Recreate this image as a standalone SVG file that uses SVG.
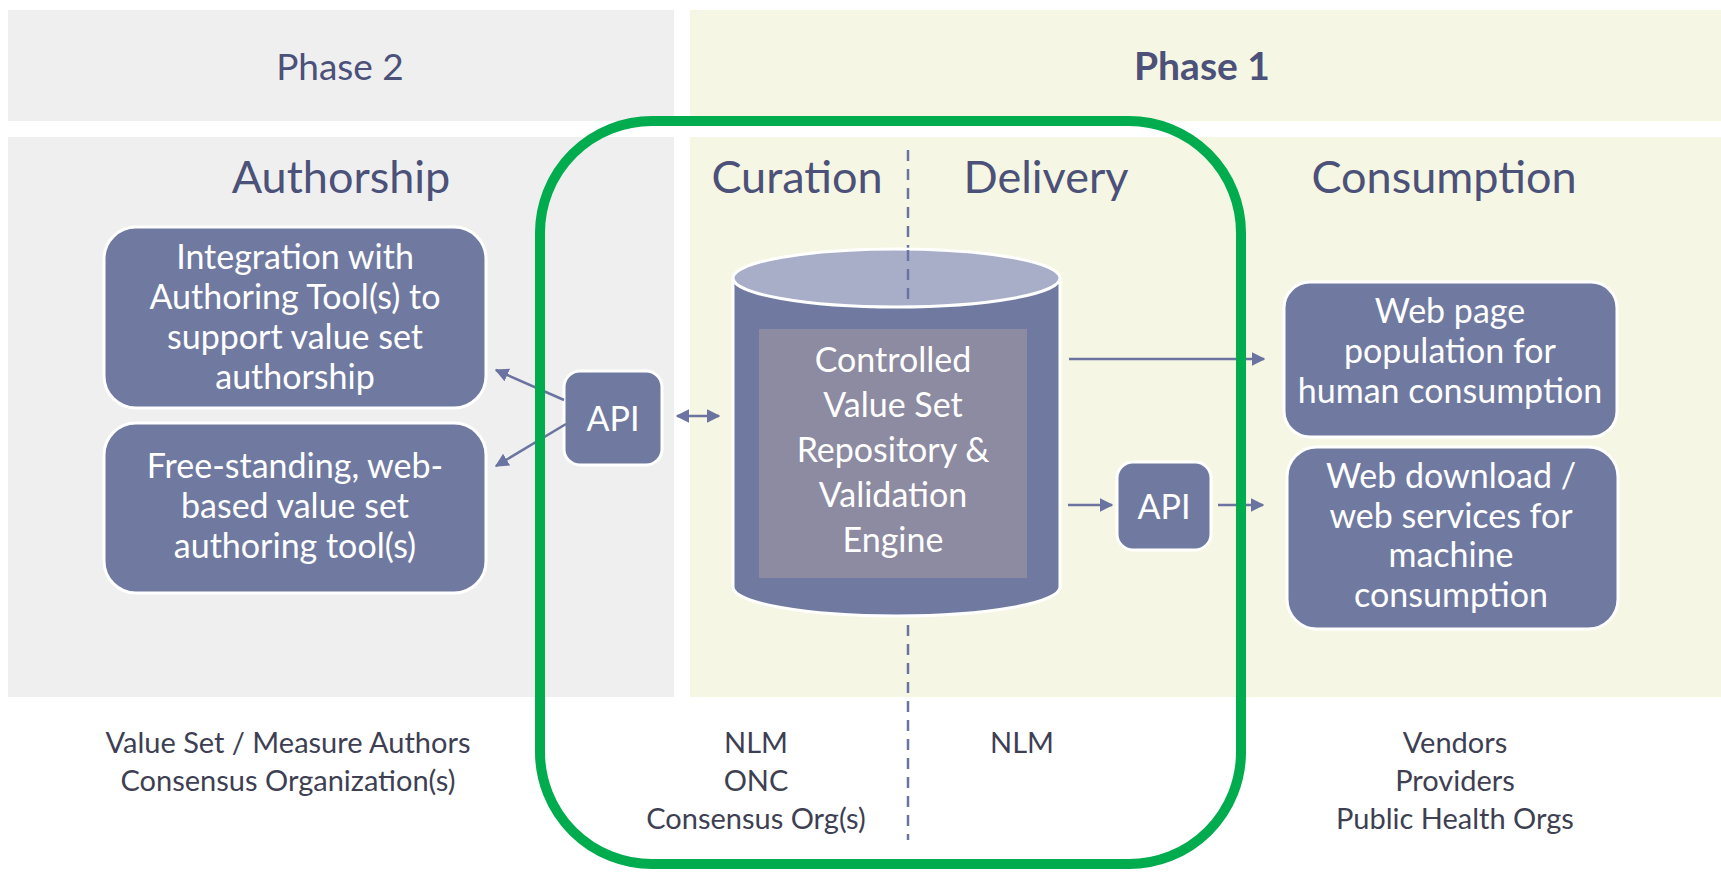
<svg xmlns="http://www.w3.org/2000/svg" width="1721" height="876" viewBox="0 0 1721 876">
<defs>
<style>
.p2{fill:#efefef}
.p1{fill:#f5f6e3}
.hd{font-family:Lato,"Open Sans",sans-serif;fill:#4b5179;text-anchor:middle}
.bx{fill:#707aa1;stroke:#ffffff;stroke-width:3}
.wt{font-family:Lato,"Open Sans",sans-serif;fill:#ffffff;text-anchor:middle;font-size:34px}
.bt{font-family:Lato,"Open Sans",sans-serif;fill:#3e3f52;text-anchor:middle;font-size:29px}
.cn{stroke:#6b73a0;stroke-width:2.5;fill:none}
</style>
<marker id="ah" viewBox="0 0 10 10" refX="9" refY="5" markerWidth="5.5" markerHeight="5.5" orient="auto-start-reverse" markerUnits="strokeWidth">
<path d="M0,0 L10,5 L0,10 z" fill="#6b73a0"/>
</marker>
</defs>
<rect width="1721" height="876" fill="#ffffff"/>
<g id="bands">
<rect class="p2" x="8" y="10" width="666" height="111"/>
<rect class="p1" x="690" y="10" width="1031" height="111"/>
<rect class="p2" x="8" y="137" width="666" height="560"/>
<rect class="p1" x="690" y="137" width="1031" height="560"/>
<text class="hd" x="340" y="80" font-size="37">Phase 2</text>
<text class="hd" x="1202" y="80" font-size="39" font-weight="bold">Phase 1</text>
<text class="hd" x="341" y="193" font-size="45">Authorship</text>
<text class="hd" x="797" y="193" font-size="45">Curation</text>
<text class="hd" x="1046" y="193" font-size="45">Delivery</text>
<text class="hd" x="1444" y="193" font-size="45">Consumption</text>
</g>
<g id="divider">
<line x1="908" y1="150" x2="908" y2="840" stroke="#6b73a0" stroke-width="2.5" stroke-dasharray="11,8"/>
</g>
<g id="repository">
<path d="M733,278 L733,587 A163.5,29 0 0 0 1060,587 L1060,278" fill="#707aa1" stroke="#ffffff" stroke-width="3"/>
<ellipse cx="896.5" cy="278" rx="163.5" ry="29" fill="#a9aec8" stroke="#ffffff" stroke-width="3"/>
<line x1="908" y1="250" x2="908" y2="305" stroke="#6b73a0" stroke-width="2.5" stroke-dasharray="11,8"/>
<rect x="759" y="329" width="268" height="249" fill="#8d8ba1"/>
<text class="wt" x="893" y="372">Controlled</text>
<text class="wt" x="893" y="417">Value Set</text>
<text class="wt" x="893" y="462">Repository &amp;</text>
<text class="wt" x="893" y="507">Validation</text>
<text class="wt" x="893" y="552">Engine</text>
</g>
<g id="authoring-integration">
<rect class="bx" x="104" y="227" width="382" height="181" rx="32"/>
<text class="wt" x="295" y="269">Integration with</text>
<text class="wt" x="295" y="309">Authoring Tool(s) to</text>
<text class="wt" x="295" y="349">support value set</text>
<text class="wt" x="295" y="389">authorship</text>
</g>
<g id="authoring-freestanding">
<rect class="bx" x="104" y="423" width="382" height="170" rx="32"/>
<text class="wt" x="295" y="478">Free-standing, web-</text>
<text class="wt" x="295" y="518">based value set</text>
<text class="wt" x="295" y="558">authoring tool(s)</text>
</g>
<g id="api-left">
<rect class="bx" x="564" y="371" width="98" height="94" rx="16"/>
<text class="wt" x="613" y="431" font-size="42">API</text>
</g>
<g id="api-right">
<rect class="bx" x="1117" y="462" width="94" height="88" rx="16"/>
<text class="wt" x="1164" y="519" font-size="42">API</text>
</g>
<g id="web-page">
<rect class="bx" x="1284" y="282" width="333" height="155" rx="26"/>
<text class="wt" x="1450" y="323">Web page</text>
<text class="wt" x="1450" y="363">population for</text>
<text class="wt" x="1450" y="403">human consumption</text>
</g>
<g id="web-download">
<rect class="bx" x="1287" y="447" width="331" height="182" rx="30"/>
<text class="wt" x="1451" y="488">Web download /</text>
<text class="wt" x="1451" y="528">web services for</text>
<text class="wt" x="1451" y="567">machine</text>
<text class="wt" x="1451" y="607">consumption</text>
</g>
<g id="connectors">
<line class="cn" x1="564" y1="400" x2="496" y2="370" marker-end="url(#ah)"/>
<line class="cn" x1="566" y1="424" x2="496" y2="466" marker-end="url(#ah)"/>
<line class="cn" x1="677" y1="416" x2="719" y2="416" marker-start="url(#ah)" marker-end="url(#ah)"/>
<line class="cn" x1="1069" y1="359" x2="1264" y2="359" marker-end="url(#ah)"/>
<line class="cn" x1="1068" y1="505" x2="1112" y2="505" marker-end="url(#ah)"/>
<line class="cn" x1="1218" y1="505" x2="1263" y2="505" marker-end="url(#ah)"/>
</g>
<g id="scope">
<rect x="540" y="121" width="701" height="743" rx="112" ry="112" fill="none" stroke="#00ac4e" stroke-width="10"/>
</g>
<g id="stakeholders">
<text class="bt" x="288" y="753">Value Set / Measure Authors</text>
<text class="bt" x="288" y="791">Consensus Organization(s)</text>
<text class="bt" x="756" y="753">NLM</text>
<text class="bt" x="756" y="791">ONC</text>
<text class="bt" x="756" y="829">Consensus Org(s)</text>
<text class="bt" x="1022" y="753">NLM</text>
<text class="bt" x="1455" y="753">Vendors</text>
<text class="bt" x="1455" y="791">Providers</text>
<text class="bt" x="1455" y="829">Public Health Orgs</text>
</g>
</svg>
